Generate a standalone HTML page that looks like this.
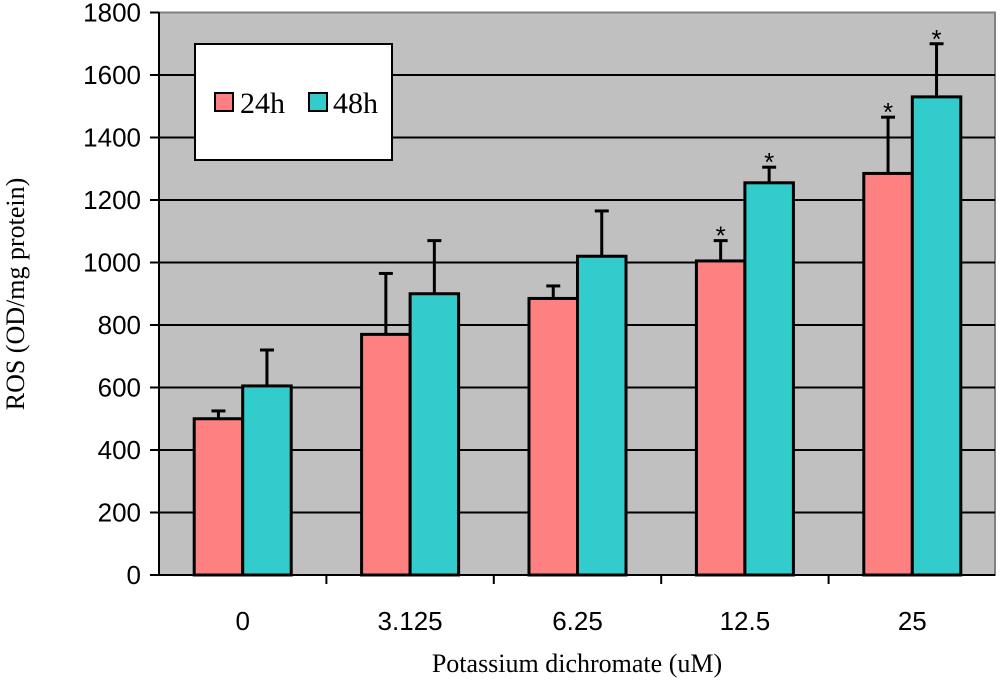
<!DOCTYPE html>
<html><head><meta charset="utf-8"><style>
body{margin:0;background:#fff;}
svg text{font-family:"Liberation Sans",sans-serif;}
</style></head><body>
<svg id="chart" width="1000" height="687" xmlns="http://www.w3.org/2000/svg">
<rect x="159" y="12.5" width="836" height="562.5" fill="#c0c0c0" stroke="#808080" stroke-width="2"/>
<g id="grid"></g><g id="bars"></g><g id="axes"></g>
<text x="577" y="672" text-anchor="middle" font-size="26" style="font-family:'Liberation Serif',serif">Potassium dichromate (uM)</text>
<text transform="translate(24,294) rotate(-90)" text-anchor="middle" font-size="26" style="font-family:'Liberation Serif',serif">ROS (OD/mg protein)</text>
<g>
<rect x="195" y="44" width="197" height="116" fill="#fff" stroke="#000" stroke-width="2"/>
<rect x="215" y="93" width="18" height="18" fill="#ff8080" stroke="#000" stroke-width="2"/>
<text x="240" y="113" font-size="30" style="font-family:'Liberation Serif',serif">24h</text>
<rect x="309" y="93" width="18" height="18" fill="#33cccc" stroke="#000" stroke-width="2"/>
<text x="333" y="113" font-size="30" style="font-family:'Liberation Serif',serif">48h</text>
</g>
</svg>
<script>
const categories=["0","3.125","6.25","12.5","25"];
const values24=[500,770,885,1005,1285];
const err24=[525,965,925,1070,1465];
const values48=[605,900,1020,1255,1530];
const err48=[720,1070,1165,1305,1700];
const sig24=[false,false,false,true,true];
const sig48=[false,false,false,true,true];
const yTicks=[0,200,400,600,800,1000,1200,1400,1600,1800];
const NS="http://www.w3.org/2000/svg";
const x0=159,catW=167.4,y0=575,yMax=1800,ph=562.5,barW=48.5;
const y=v=>y0-v/yMax*ph;
function mk(t,a,p){const e=document.createElementNS(NS,t);for(const k in a)e.setAttribute(k,a[k]);p.appendChild(e);return e;}
const grid=document.getElementById('grid'),bars=document.getElementById('bars'),axes=document.getElementById('axes');
yTicks.forEach(v=>{
 if(v>0&&v<1800){const g=mk('line',{x1:x0,x2:995,y1:y(v),y2:y(v),stroke:'#000','stroke-width':2},grid);
 
 }
 const t=mk('line',{x1:150,x2:x0,y1:y(v),y2:y(v),stroke:'#000','stroke-width':2},axes);
 
 
 const l=mk('text',{x:141,y:y(v)+9,'text-anchor':'end','font-size':26},axes);
 l.textContent=v;
 
 
});
mk('line',{x1:x0,x2:x0,y1:12,y2:y0,stroke:'#000','stroke-width':2},axes);
mk('line',{x1:x0,x2:995,y1:y0,y2:y0,stroke:'#000','stroke-width':2},axes);
categories.forEach((c,i)=>{
 const cx=x0+catW*(i+0.5);
 const series=[[values24[i],err24[i],sig24[i],'#ff8080',cx-barW],[values48[i],err48[i],sig48[i],'#33cccc',cx]];
 series.forEach(([v,e,s,col,bx],j)=>{
  const mid=bx+barW/2;
  const el=mk('line',{x1:mid,x2:mid,y1:y(v),y2:y(e),stroke:'#000','stroke-width':3},bars);
  
  
  mk('line',{x1:mid-7,x2:mid+7,y1:y(e),y2:y(e),stroke:'#000','stroke-width':3},bars);
  const r=mk('rect',{x:bx,y:y(v),width:barW,height:y0-y(v),fill:col,stroke:'#000','stroke-width':3},bars);
  
  
  if(s){const st=mk('text',{x:mid,y:y(e)+4,'text-anchor':'middle','font-size':26},bars);
  st.textContent='*';
  
  }
 });
 if(i>0){mk('line',{x1:x0+catW*i,x2:x0+catW*i,y1:y0,y2:y0+9,stroke:'#000','stroke-width':2},axes);}
 const l=mk('text',{x:cx,y:y0+55,'text-anchor':'middle','font-size':26},axes);
 l.textContent=c;
 
 
});
</script>
</body></html>
